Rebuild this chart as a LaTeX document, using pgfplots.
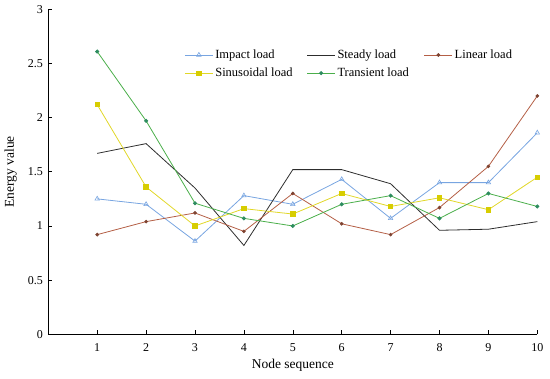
\documentclass[border=0pt]{standalone}
\usepackage{pgfplots}
\pgfplotsset{compat=1.18}
\usepackage{fontspec}
\setmainfont{Liberation Serif}
\definecolor{cImpact}{RGB}{120,165,225}
\definecolor{cSteady}{RGB}{45,45,45}
\definecolor{cLinear}{RGB}{180,95,70}
\definecolor{cSinus}{RGB}{225,215,40}
\definecolor{cSinusM}{RGB}{215,205,0}
\definecolor{cTrans}{RGB}{75,175,75}
\definecolor{cTransM}{RGB}{45,140,95}
\begin{document}
\begin{tikzpicture}
\begin{axis}[
  scale only axis,
  width=489pt, height=325pt,
  xmin=0, xmax=10, ymin=0, ymax=3,
  axis lines=left,
  axis line style={-, black, line width=0.8pt},
  xtick={1,...,10},
  ytick={0,0.5,1,1.5,2,2.5,3},
  yticklabels={0,0.5,1,1.5,2,2.5,3},
  tick align=inside,
  major tick length=4pt,
  tick style={black, line width=0.6pt},
  /pgf/number format/assume math mode=true,
  tick label style={font=\fontsize{12}{14}\selectfont},
  xticklabel style={yshift=-6pt},
  yticklabel style={xshift=-2pt},
  label style={font=\fontsize{13.5}{15}\selectfont},
  xlabel={Node sequence},
  ylabel={Energy value},
  xlabel style={at={(axis description cs:0.5,0)}, anchor=north, yshift=-21pt},
  ylabel style={at={(axis description cs:0,0.5)}, anchor=south, yshift=28pt},
  legend columns=3,
  legend cell align=left,
  legend style={draw=none, fill=none, font=\fontsize{12.5}{14}\selectfont,
    at={(axis description cs:0.272,0.888)}, anchor=north west,
    /tikz/column 2/.style={column sep=12pt},
    /tikz/column 4/.style={column sep=13pt},
    row sep=4pt},
  legend image code/.code={\draw[mark repeat=2,mark phase=2] plot coordinates {(0pt,0pt) (14pt,0pt) (28pt,0pt)};},
  every axis plot/.append style={line width=0.8pt},
]
\addplot[color=cImpact, mark=triangle, mark size=2.6pt, mark options={solid, line width=0.6pt, fill=white}] coordinates {
(1,1.25) (2,1.20) (3,0.86) (4,1.28) (5,1.20) (6,1.43) (7,1.07) (8,1.40) (9,1.40) (10,1.86)};
\addlegendentry{Impact load}
\addplot[color=cSteady, no marks] coordinates {
(1,1.67) (2,1.76) (3,1.35) (4,0.82) (5,1.52) (6,1.52) (7,1.39) (8,0.96) (9,0.97) (10,1.04)};
\addlegendentry{Steady load}
\addplot[color=cLinear, mark=*, mark size=1.4pt, mark options={fill=cLinear!70!black, draw=cLinear!70!black}] coordinates {
(1,0.92) (2,1.04) (3,1.12) (4,0.95) (5,1.30) (6,1.02) (7,0.92) (8,1.17) (9,1.55) (10,2.20)};
\addlegendentry{Linear load}
\addplot[color=cSinus, mark=square*, mark size=2.2pt, mark options={fill=cSinusM, draw=cSinusM}] coordinates {
(1,2.12) (2,1.36) (3,1.00) (4,1.16) (5,1.11) (6,1.30) (7,1.18) (8,1.26) (9,1.15) (10,1.45)};
\addlegendentry{Sinusoidal load}
\addplot[color=cTrans, mark=*, mark size=1.6pt, mark options={fill=cTransM, draw=cTransM}] coordinates {
(1,2.61) (2,1.97) (3,1.21) (4,1.07) (5,1.00) (6,1.20) (7,1.28) (8,1.07) (9,1.30) (10,1.18)};
\addlegendentry{Transient load}
\end{axis}
\pgfresetboundingbox
\path (current axis.origin) ++(-48.3pt,-44.7pt) rectangle ++(550pt,379pt);
\end{tikzpicture}
\end{document}
